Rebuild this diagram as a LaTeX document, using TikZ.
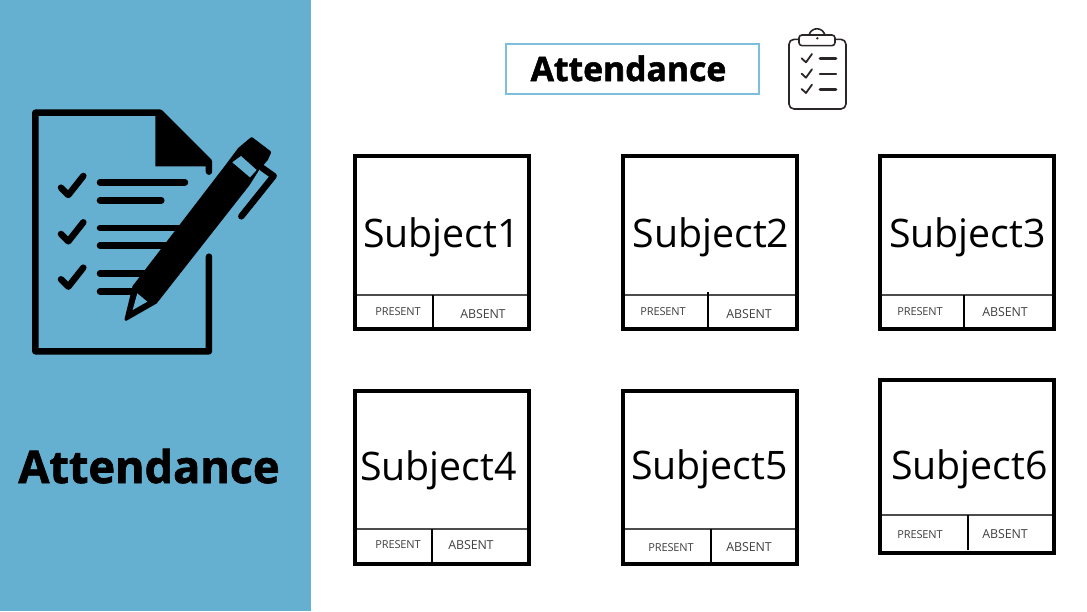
\documentclass[tikz,border=0pt]{standalone}
\usepackage{fontspec}
\setmainfont[BoldFeatures={FakeBold=1.6}]{Open Sans}
\definecolor{panel}{HTML}{65B0D1}
\definecolor{titleline}{HTML}{7DBEDB}
\definecolor{clipink}{HTML}{2B2626}
\tikzset{
  card/.style = {draw=black, line width=4pt},
  sep/.style = {draw=black!70!white, line width=1.7pt},
  split/.style = {draw=black, line width=2.2pt},
  subj/.style = {anchor=base, inner sep=0pt, font=\fontsize{39.3}{39.3}\selectfont},
  pres/.style = {anchor=base, inner sep=0pt, text=black!75!white, font=\fontsize{11}{11}\selectfont\addfontfeatures{LetterSpace=-1}},
  abs/.style = {anchor=base, inner sep=0pt, text=black!75!white, font=\fontsize{12.4}{12.4}\selectfont\addfontfeatures{LetterSpace=-1}},
  ink/.style = {draw=black, line width=6.5pt, line cap=round, line join=round},
  thin ink/.style = {draw=clipink, line width=1.6pt, line cap=round, line join=round}
}

\begin{document}
\begin{tikzpicture}[x=1pt, y=-1pt]
	\useasboundingbox (0,0) rectangle (1087,611);
	\fill[white] (0,0) rectangle (1087,611);
	\fill[panel] (0,0) rectangle (311,611);

	% Document and pen, measured in the 3x crop
	\begin{scope}[x=0.3333pt, y=-0.3333pt, yshift=-90pt]
		\draw[ink] (627,500) -- (627,784) -- (106,784) -- (106,68) -- (480,68) -- (627,215) -- (627,245);
		\fill[black] (466,68) -- (480,68) -- (627,215) -- (627,229) -- (466,229) -- cycle;
		% Checks
		\draw[ink] (183,293) -- (205,315) -- (250,258);
		\draw[ink] (183,432) -- (205,454) -- (250,397);
		\draw[ink] (183,568) -- (205,590) -- (250,533);
		% Text lines
		\draw[ink] (300,277) -- (555,277);
		\draw[ink] (300,331) -- (484,331);
		\draw[ink] (300,414) -- (545,414);
		\draw[ink] (300,467) -- (505,467);
		\draw[ink] (300,551) -- (440,551);
		\draw[ink] (300,604) -- (410,604);
		% Pen
		\filldraw[ink, line width=3pt] (402,590) -- (680,228) -- (718,177) -- (755,146) -- (809,187) -- (800,207) -- (772,240) -- (745,283) -- (467,637) -- (378,688) -- cycle;
		\fill[panel] (697,217) -- (723,198) -- (770,240) -- (750,262) -- cycle;
		\fill[panel] (398,660) -- (442,635) -- (412,610) -- cycle;
		\draw[ink] (787,234) -- (821,258) -- (724,379);
	\end{scope}

	\node[anchor=base, inner sep=0pt, font=\fontsize{45}{45}\selectfont\bfseries] (sideTitle) at (149,483) {Attendance};

	% Title
	\draw[titleline, line width=2pt] (506,44) rectangle (759,94);
	\node[anchor=base, inner sep=0pt, font=\fontsize{33.7}{33.7}\selectfont\bfseries] (topTitle) at (628.5,81) {Attendance};

	% Clipboard
	\begin{scope}[x=0.3333pt, y=-0.3333pt, xshift=490pt, yshift=-20pt]
		\draw[thin ink, rounded corners=5pt] (927,58) -- (897,58) -- (897,267) -- (1068,267) -- (1068,58) -- (1035,58);
		\draw[thin ink, rounded corners=3pt] (927,45) rectangle (1035,77);
		\draw[thin ink] (957,45) .. controls (965,20) and (997,20) .. (1005,45);
		\fill[clipink] (982,55) circle (4);
		\draw[thin ink, line width=1.8pt] (935,115) -- (948,127) -- (966,102);
		\draw[thin ink, line width=1.8pt] (935,161) -- (948,173) -- (966,148);
		\draw[thin ink, line width=1.8pt] (935,207) -- (948,219) -- (966,194);
		\draw[thin ink, line width=2.6pt] (990,116) -- (1038,116);
		\draw[thin ink, line width=2.6pt] (990,162) -- (1038,162);
		\draw[thin ink, line width=2.6pt] (990,208) -- (1038,208);
	\end{scope}

	% Row 1
	\draw[sep] (355,295) -- (528,295);
	\draw[split] (433,295) -- (433,329);
	\draw[card] (355,156) rectangle (528.5,329);
	\node[subj] (subjectA) at (441.5,247) {Subject1};
	\node[pres] (presentA) at (398,315) {PRESENT};
	\node[abs] (absentA) at (483,318) {ABSENT};

	\draw[sep] (623,295) -- (796,295);
	\draw[split] (708,292) -- (708,329);
	\draw[card] (623,156) rectangle (796.5,329);
	\node[subj] (subjectB) at (711,247.5) {Subject2};
	\node[pres] (presentB) at (663,315) {PRESENT};
	\node[abs] (absentB) at (749,318) {ABSENT};

	\draw[sep] (880,295) -- (1053,295);
	\draw[split] (964,295) -- (964,329);
	\draw[card] (880,156) rectangle (1053.5,329);
	\node[subj] (subjectC) at (967.5,247) {Subject3};
	\node[pres] (presentC) at (920,315) {PRESENT};
	\node[abs] (absentC) at (1005,316) {ABSENT};

	% Row 2
	\draw[sep] (355,529) -- (528,529);
	\draw[split] (432,529) -- (432,564);
	\draw[card] (355,391) rectangle (528.5,564);
	\node[subj] (subjectD) at (438.5,480) {Subject4};
	\node[pres] (presentD) at (398,548) {PRESENT};
	\node[abs] (absentD) at (471,549) {ABSENT};

	\draw[sep] (623,529) -- (796,529);
	\draw[split] (711,529) -- (711,564);
	\draw[card] (623,391) rectangle (796.5,564);
	\node[subj] (subjectE) at (709.5,479) {Subject5};
	\node[pres] (presentE) at (671,551) {PRESENT};
	\node[abs] (absentE) at (749,551) {ABSENT};

	\draw[sep] (880,515) -- (1053,515);
	\draw[split] (968,515) -- (968,550);
	\draw[card] (880,380) rectangle (1053.5,553);
	\node[subj] (subjectF) at (969.5,479) {Subject6};
	\node[pres] (presentF) at (920,538) {PRESENT};
	\node[abs] (absentF) at (1005,538) {ABSENT};
\end{tikzpicture}
\end{document}
